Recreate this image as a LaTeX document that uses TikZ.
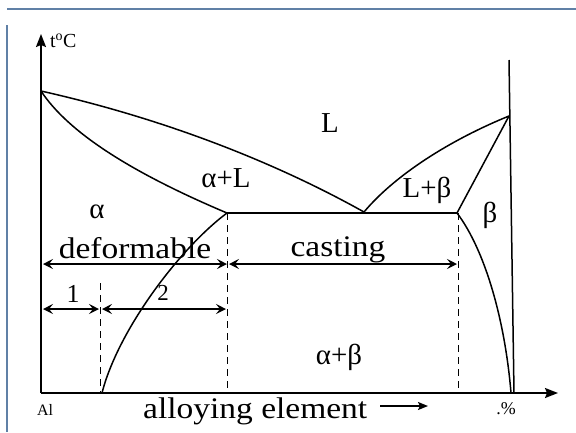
\documentclass[tikz,border=0pt]{standalone}
\usepackage{fontspec}
\setmainfont{Liberation Serif}
\newfontfamily\widefont[FakeStretch=1.12]{Liberation Serif}
\usetikzlibrary{arrows.meta}
\definecolor{framecol}{RGB}{96,128,166}
\tikzset{
  phase/.style={line width=1.5bp, black},
  axis/.style={line width=1.7bp, black, -{Stealth[length=13bp,width=10bp,inset=2bp]}},
  limit/.style={line width=1bp, black, dash pattern=on 7bp off 5bp},
  span/.style={line width=2.3bp, black, {Stealth[length=10bp,width=10bp,inset=4bp]}-{Stealth[length=10bp,width=10bp,inset=4bp]}},
  region/.style={font=\fontsize{29}{31}\selectfont, inner sep=0pt},
  big/.style={font=\widefont\fontsize{30}{32}\selectfont, inner sep=0pt, anchor=base},
  small/.style={font=\fontsize{18}{20}\selectfont, inner sep=0pt},
  frame/.style={line width=1.5bp, framecol}
}
\begin{document}
\begin{tikzpicture}[x=1bp,y=-1bp]
\useasboundingbox (0,0) rectangle (576,432);
% frame
\coordinate (f1) at (7,9);
\coordinate (f2) at (576,9);
\coordinate (f3) at (7,25);
\coordinate (f4) at (7,432);
\draw[frame] (f1) -- (f2);
\draw[frame] (f3) -- (f4);
% key points
\coordinate (O) at (41,393);
\coordinate (ytip) at (41,34);
\coordinate (xtip) at (558,393);
\coordinate (A) at (41,91);
\coordinate (E) at (364,212);
\coordinate (Sa) at (227,213);
\coordinate (Sb) at (457,213);
\coordinate (B) at (509,116);
\coordinate (RT) at (509,60);
\coordinate (RB) at (514,393);
\coordinate (Pa) at (102,393);
\coordinate (Pb) at (511,393);
% axes
\draw[axis] (O) -- (ytip);
\draw[axis] (O) -- (xtip);
% right boundary
\draw[phase] (RT) -- (RB);
% phase lines
\draw[phase] (A) .. controls (170,120) and (280,165) .. (E);
\draw[phase] (A) .. controls (68,132) and (130,172) .. (Sa);
\draw[phase] (Sa) .. controls (180,248) and (118,330) .. (Pa);
\draw[phase] (Sa) -- (Sb);
\draw[phase] (E) .. controls (395,175) and (450,140) .. (B);
\draw[phase] (Sb) -- (B);
\draw[phase] (Sb) .. controls (485,250) and (505,320) .. (Pb);
% dashed limits
\coordinate (d1t) at (100,283);
\coordinate (d1b) at (100,393);
\coordinate (d2b) at (227,393);
\coordinate (d3b) at (458,393);
\coordinate (d3t) at (458,213);
\draw[limit] (d1t) -- (d1b);
\draw[limit] (Sa) -- (d2b);
\draw[limit] (d3t) -- (d3b);
% span arrows
\coordinate (s1) at (43,264);
\coordinate (s2) at (227,264);
\coordinate (s3) at (229,264);
\coordinate (s4) at (457,264);
\coordinate (r1) at (43,309);
\coordinate (r2) at (99,309);
\coordinate (r3) at (102,309);
\coordinate (r4) at (226,309);
\draw[span] (s1) -- (s2);
\draw[span] (s3) -- (s4);
\draw[span] (r1) -- (r2);
\draw[span] (r3) -- (r4);
% labels
\node[font=\fontsize{20}{22}\selectfont, inner sep=0pt, anchor=west] (tC) at (50,41) {t\textsuperscript{o}C};
\node[region] (lL) at (330,123) {L};
\node[region] (laL) at (226,178) {α+L};
\node[region] (la) at (97,212) {α};
\node[region] (lLb) at (427,190) {L+β};
\node[region] (lb) at (490,215) {β};
\node[big] (ldef) at (135,258) {deformable};
\node[big] (lcast) at (338,256) {casting};
\node[font=\fontsize{26}{28}\selectfont, inner sep=0pt] (l1) at (73,294) {1};
\node[font=\fontsize{23}{25}\selectfont, inner sep=0pt] (l2) at (163,293) {2};
\node[region] (lab) at (339,357) {α+β};
\node[font=\fontsize{16}{18}\selectfont, inner sep=0pt] (lAl) at (45,410) {Al};
\node[big, anchor=base west] (lalloy) at (143,418) {alloying element};
\coordinate (ar1) at (380,406);
\coordinate (ar2) at (428,406);
\draw[line width=1.8bp, -{Stealth[length=10bp,width=8bp,inset=2bp]}] (ar1) -- (ar2);
\node[small] (lpct) at (506,409) {.\%};
\end{tikzpicture}
\end{document}
